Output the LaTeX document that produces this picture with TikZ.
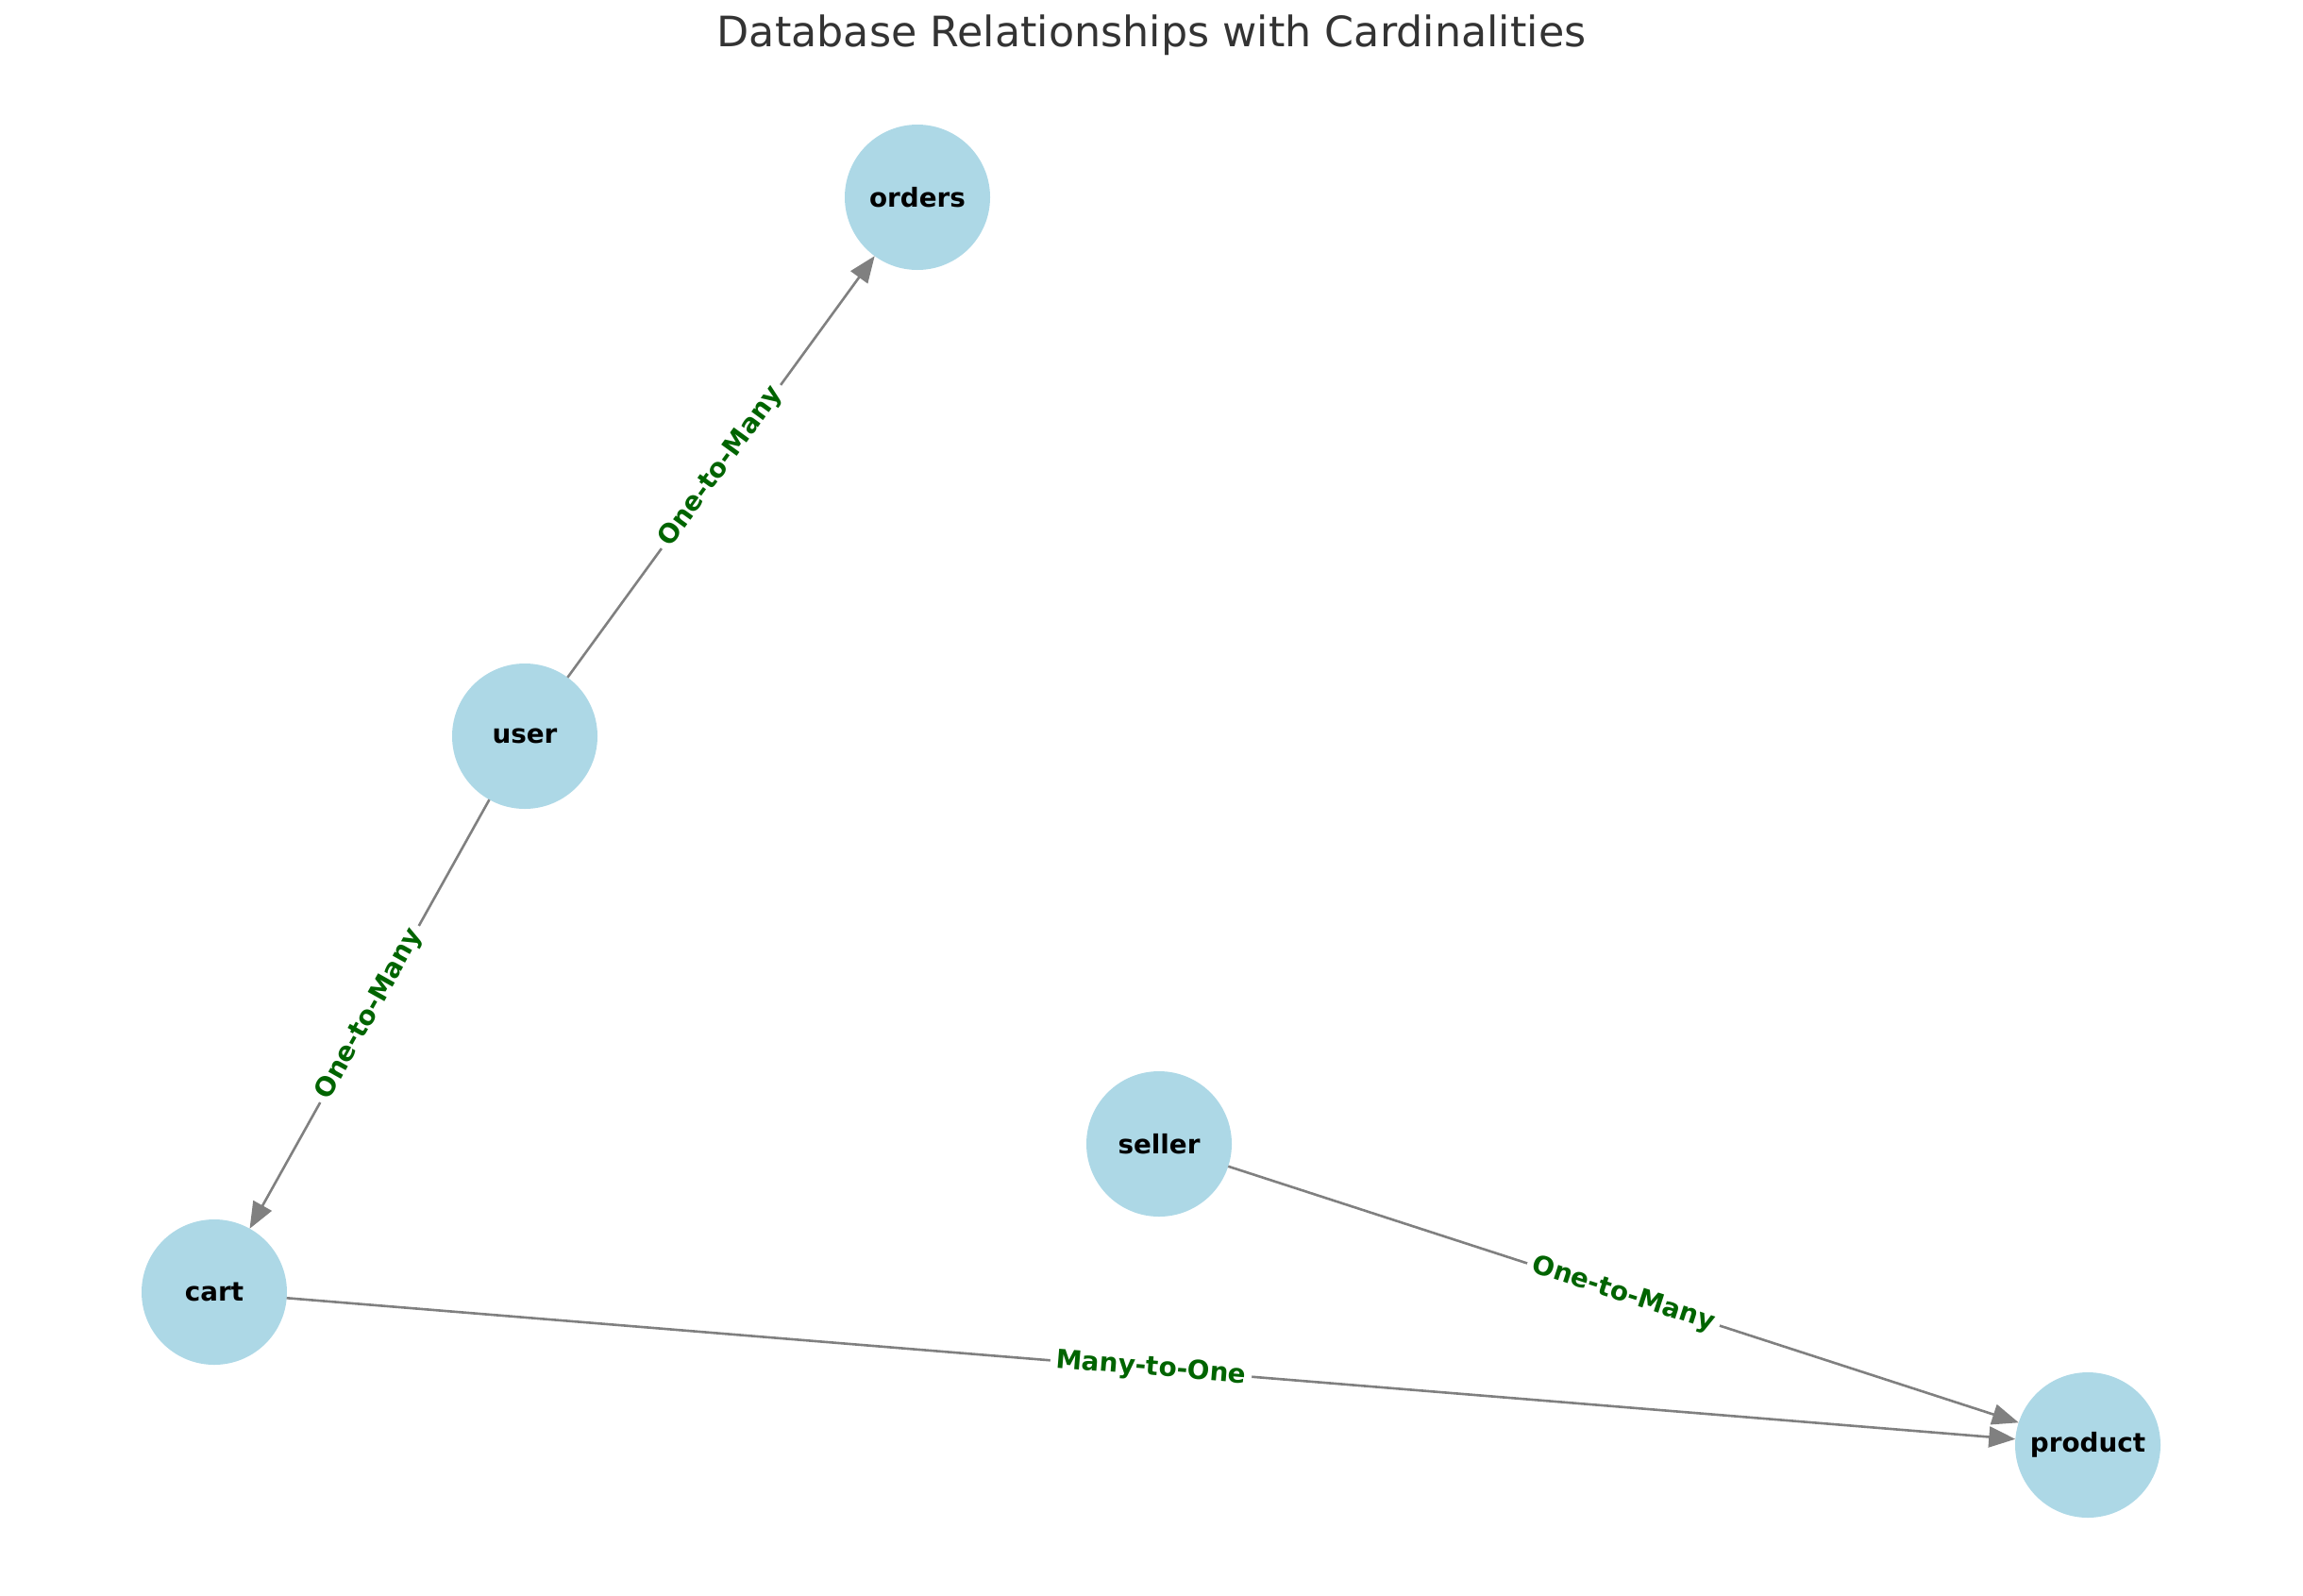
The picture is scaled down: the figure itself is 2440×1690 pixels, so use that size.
\documentclass[tikz,border=0pt]{standalone}
\usepackage{fontspec}
\setmainfont{DejaVu Sans}
\usetikzlibrary{arrows.meta}
\definecolor{nodeblue}{HTML}{ADD8E6}
\definecolor{edgegray}{HTML}{808080}
\definecolor{labelgreen}{HTML}{006400}
\definecolor{titlegray}{HTML}{333333}
\begin{document}
\begin{tikzpicture}[x=1pt,y=-1pt,
  ent/.style={circle, fill=nodeblue, minimum size=154pt, inner sep=0pt, outer sep=0pt,
    font=\fontsize{27.8}{30}\selectfont\bfseries},
  rel/.style={draw=edgegray, line width=2.6pt, -{Triangle[length=28pt,width=22pt,fill=edgegray]}},
  card/.style={midway, sloped, fill=white, inner sep=6pt, text=labelgreen,
    font=\fontsize{27.8}{30}\selectfont\bfseries}]
\useasboundingbox (0,0) rectangle (2440,1690);
\node[font=\fontsize{44.4}{50}\selectfont, text=titlegray] (title) at (1220,37) {Database Relationships with Cardinalities};
\node[ent] (orders) at (972,209) {orders};
\node[ent] (user) at (556,780) {user};
\node[ent] (cart) at (227,1369) {cart};
\node[ent] (seller) at (1228,1212) {seller};
\node[ent] (product) at (2212,1531) {product};
\draw[rel] (user) -- node[card] {One-to-Many} (orders);
\draw[rel] (user) -- node[card] {One-to-Many} (cart);
\draw[rel] (cart) -- node[card] {Many-to-One} (product);
\draw[rel] (seller) -- node[card] {One-to-Many} (product);
\end{tikzpicture}
\end{document}
